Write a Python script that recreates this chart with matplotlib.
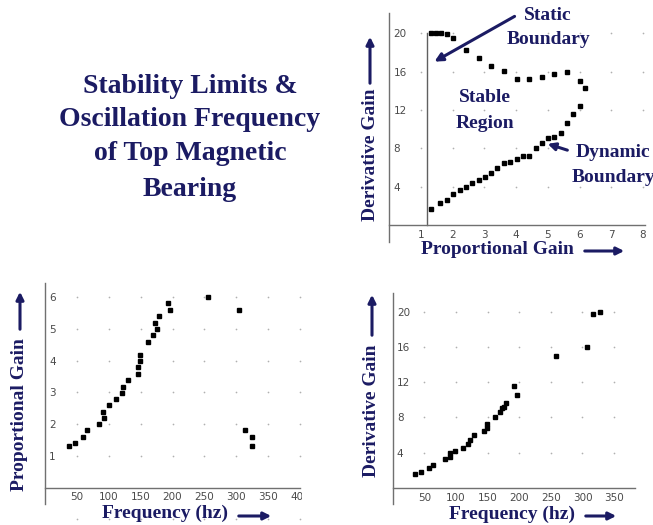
import numpy as np
import matplotlib
matplotlib.use("Agg")
import matplotlib.pyplot as plt
from matplotlib.patches import Rectangle

# ---------------- data ----------------
# Top-right: stability boundaries (Proportional gain vs Derivative gain)
upper_kp = [1.31, 1.47, 1.63, 1.83, 2.02, 2.42, 2.83, 3.21, 3.62, 4.02, 4.42, 4.83, 5.20, 5.62, 6.01, 6.17]
upper_kd = [20.0, 20.0, 20.0, 19.9, 19.5, 18.2, 17.4, 16.6, 16.1, 15.2, 15.2, 15.4, 15.8, 16.0, 15.05, 14.25]
lower_kp = [1.31, 1.60, 1.83, 2.02, 2.23, 2.42, 2.62, 2.83, 3.02, 3.21, 3.41, 3.62, 3.81, 4.02,
            4.23, 4.42, 4.62, 4.83, 5.02, 5.20, 5.42, 5.62, 5.80, 6.01]
lower_kd = [1.63, 2.26, 2.60, 3.20, 3.65, 4.00, 4.34, 4.70, 5.04, 5.46, 5.90, 6.43, 6.60, 6.85,
            7.23, 7.23, 8.00, 8.60, 9.04, 9.20, 9.56, 10.6, 11.6, 12.44]
static_kp = [1.2, 1.2]
static_kd = [0, 20]

# Bottom-left: Proportional gain vs frequency
freq_p = [37.6, 47, 59.8, 65.5, 84.2, 92, 91.4, 99.7, 111.6, 120.9, 123, 130.2, 145.2, 145.2,
          148.8, 148.8, 161.8, 170, 175.2, 172.6, 178.3, 196, 192.8, 256.4, 304.5, 313.8, 324.8, 324.8]
prop_gain = [1.31, 1.40, 1.59, 1.80, 1.99, 2.19, 2.39, 2.59, 2.80, 2.99, 3.18, 3.40, 3.59, 3.80,
             4.00, 4.19, 4.60, 4.80, 5.00, 5.20, 5.40, 5.60, 5.81, 6.00, 5.60, 1.80, 1.59, 1.31]

# Bottom-right: Derivative gain vs frequency
freq_d = [35.3, 44.3, 57.5, 63.2, 82.8, 90.7, 90.2, 98.6, 110.7, 119.2, 122.3, 129.2, 144.5,
          148.7, 148.7, 161.4, 169.8, 173, 176.2, 178.8, 192.5, 196.2, 258.4, 307.5, 317, 327.5]
deriv_gain = [1.58, 1.77, 2.22, 2.56, 3.24, 3.55, 4.0, 4.19, 4.57, 5.02, 5.43, 6.0, 6.5,
              6.8, 7.2, 8.0, 8.57, 9.03, 9.18, 9.6, 11.56, 10.54, 14.99, 16.0, 19.76, 19.99]

tr_xticks = [1, 2, 3, 4, 5, 6, 7, 8]
tr_yticks = [4, 8, 12, 16, 20]
bl_xticks = [50, 100, 150, 200, 250, 300, 350, 400]
bl_yticks = [1, 2, 3, 4, 5, 6]
br_xticks = [50, 100, 150, 200, 250, 300, 350]
br_yticks = [4, 8, 12, 16, 20]

title_lines = ["Stability Limits &", "Oscillation Frequency", "of Top Magnetic", "Bearing"]

# ---------------- style ----------------
W, H = 653, 525
NAVY = "#1b1b63"
SERIF = "Liberation Serif"
fig = plt.figure(figsize=(W / 100, H / 100), dpi=100)
fig.patch.set_facecolor("white")


def fx(px):
    return px / W


def fy(py):
    return 1 - py / H


def make_axes(left, right, top, bottom):
    return fig.add_axes([fx(left), fy(bottom), fx(right) - fx(left), fy(top) - fy(bottom)])


def setup(ax, xlim, ylim, xticks, yticks, extra_rows=()):
    ax.set_xlim(*xlim)
    ax.set_ylim(*ylim)
    ax.set_facecolor("white")
    for s in ("top", "right"):
        ax.spines[s].set_visible(False)
    ax.spines["bottom"].set_position(("data", 0))
    for s in ("bottom", "left"):
        ax.spines[s].set_color("#707070")
        ax.spines[s].set_linewidth(1.0)
    ax.set_xticks(xticks)
    ax.set_yticks(yticks)
    ax.tick_params(length=0, labelsize=7.5, labelcolor="#4a4a4a")
    ax.tick_params(axis="y", pad=-3)
    for lbl in ax.get_yticklabels():
        lbl.set_horizontalalignment("left")
    gx, gy = np.meshgrid(xticks, list(yticks) + list(extra_rows))
    ax.scatter(gx.ravel(), gy.ravel(), s=1.5, color="#b0b0b0", lw=0, clip_on=False, zorder=1)


def arrow(x0, y0, x1, y1, lw=2.2, ms=11):
    fig.add_artist(matplotlib.patches.FancyArrowPatch(
        (fx(x0), fy(y0)), (fx(x1), fy(y1)), transform=fig.transFigure,
        arrowstyle="-|>", mutation_scale=ms, color=NAVY, lw=lw, zorder=6))


def label(x, y, s, rot=0, size=14, ha="center"):
    fig.text(fx(x), fy(y), s, rotation=rot, ha=ha, va="center", fontsize=size,
             fontweight="bold", family=SERIF, color=NAVY, zorder=6)


MS = 3.2

# ---- top-right panel ----
ax1 = make_axes(389.3, 644.5, 13.1, 241.7)
setup(ax1, (0, 8.05), (-1.74, 22.1), tr_xticks, tr_yticks)
ax1.plot(static_kp, static_kd, color="#606060", lw=1.0, zorder=2)
ax1.plot(upper_kp, upper_kd, "s", ms=MS, color="black", zorder=3, clip_on=False)
ax1.plot(lower_kp, lower_kd, "s", ms=MS, color="black", zorder=3, clip_on=False)

# ---- bottom-left panel ----
ax2 = make_axes(45.1, 300.0, 283.3, 504.0)
setup(ax2, (0, 395.3), (-0.52, 6.44), bl_xticks, bl_yticks, extra_rows=(-1,))
ax2.plot(freq_p, prop_gain, "s", ms=MS, color="black", zorder=3, clip_on=False)

# ---- bottom-right panel ----
ax3 = make_axes(392.7, 635.0, 293.3, 504.0)
setup(ax3, (0, 383), (-1.83, 22.1), br_xticks, br_yticks)
ax3.plot(freq_d, deriv_gain, "s", ms=MS, color="black", zorder=3, clip_on=False)

# white cover to clip the "400" label like the reference
fig.add_artist(Rectangle((fx(301.5), fy(525)), fx(338) - fx(301.5), fy(280) - fy(525),
                         transform=fig.transFigure, facecolor="white", edgecolor="none", zorder=5))

# ---- title ----
for line, base in zip(title_lines, [92.7, 126.0, 160.0, 195.7]):
    fig.text(fx(190), fy(base), line, ha="center", va="baseline", fontsize=20,
             fontweight="bold", family=SERIF, color=NAVY)

# ---- axis labels with arrows ----
label(370, 155, "Derivative Gain", rot=90)
arrow(370, 86, 370, 34)
label(497, 250, "Proportional Gain")
arrow(582, 251, 627, 251)

label(20, 415, "Proportional Gain", rot=90)
arrow(20, 332, 20, 289)
label(165, 513, "Frequency (hz)")
arrow(236, 516, 274, 516)

label(512, 514, "Frequency (hz)")
label(372, 411, "Derivative Gain", rot=90)
arrow(372, 338, 372, 292)
arrow(583, 516, 619, 516)

# ---- annotations ----
label(548, 15, "Static")
label(548, 40, "Boundary")
arrow(517, 15, 432, 63, lw=2.2, ms=12)
label(485, 98, "Stable")
label(485, 123, "Region")
label(576, 153, "Dynamic", ha="left")
label(572, 177, "Boundary", ha="left")
arrow(570, 151, 545, 143, lw=2.2, ms=11)

fig.savefig("out.png", dpi=100)
